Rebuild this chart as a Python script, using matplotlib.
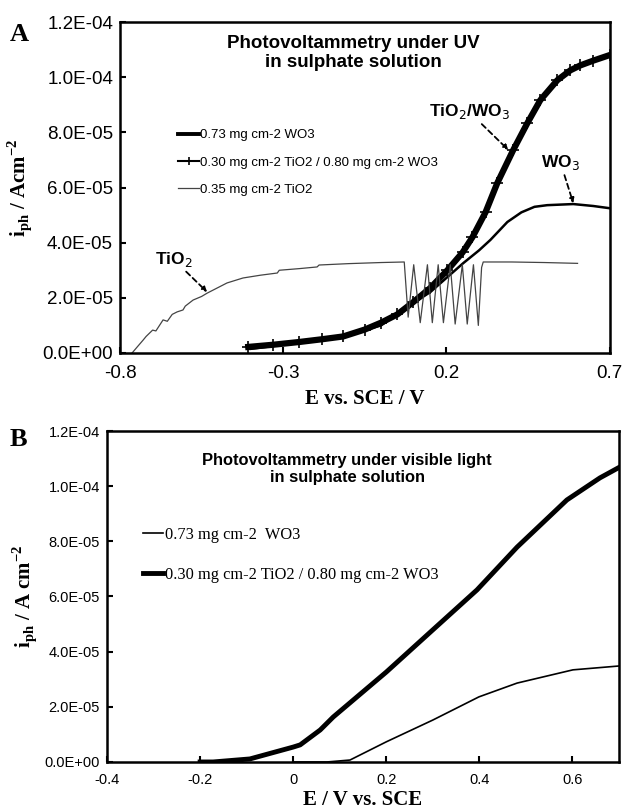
import matplotlib
matplotlib.use("Agg")
import matplotlib.pyplot as plt
from matplotlib.ticker import FuncFormatter

# ---- panel A: photovoltammetry under UV ----
a_wo3_E = [-0.40, -0.30, -0.20, -0.10, 0.0, 0.08, 0.151, 0.252, 0.30, 0.335, 0.387,
           0.43, 0.47, 0.509, 0.589, 0.65, 0.70]
a_wo3_i = [0.15e-5, 0.3e-5, 0.45e-5, 0.65e-5, 1.0e-5, 1.67e-5, 2.21e-5, 3.26e-5, 3.72e-5,
           4.1e-5, 4.75e-5, 5.1e-5, 5.3e-5, 5.36e-5, 5.40e-5, 5.33e-5, 5.25e-5]

a_mix_E = [-0.407, -0.33, -0.25, -0.18, -0.116, -0.05, 0.0, 0.05, 0.099, 0.15, 0.203,
           0.25, 0.28, 0.32, 0.356, 0.405, 0.448, 0.488, 0.54, 0.58, 0.611, 0.65, 0.70]
a_mix_i = [0.22e-5, 0.30e-5, 0.40e-5, 0.50e-5, 0.60e-5, 0.85e-5, 1.1e-5, 1.4e-5, 1.85e-5,
           2.35e-5, 3.0e-5, 3.65e-5, 4.2e-5, 5.1e-5, 6.16e-5, 7.36e-5, 8.33e-5, 9.17e-5,
           9.89e-5, 10.25e-5, 10.43e-5, 10.6e-5, 10.8e-5]

a_tio2_E = [-0.763, -0.745, -0.729, -0.72, -0.70, -0.69, -0.668, -0.655, -0.64, -0.625,
            -0.607, -0.60, -0.576, -0.55, -0.533, -0.50, -0.472, -0.423, -0.37, -0.318,
            -0.312, -0.25, -0.196, -0.19, -0.10, 0.0, 0.071,
            0.083, 0.100, 0.120, 0.142, 0.157, 0.175, 0.191, 0.212, 0.227, 0.249, 0.264,
            0.283, 0.298, 0.308, 0.313, 0.40, 0.50, 0.602]
a_tio2_i = [0.0, 0.25e-5, 0.47e-5, 0.6e-5, 0.83e-5, 0.8e-5, 1.2e-5, 1.15e-5, 1.4e-5, 1.49e-5,
            1.56e-5, 1.7e-5, 1.92e-5, 2.05e-5, 2.17e-5, 2.37e-5, 2.54e-5, 2.72e-5, 2.82e-5,
            2.9e-5, 3.0e-5, 3.06e-5, 3.12e-5, 3.19e-5, 3.24e-5, 3.28e-5, 3.3e-5,
            1.3e-5, 3.2e-5, 1.1e-5, 3.2e-5, 1.1e-5, 3.2e-5, 1.1e-5, 3.2e-5, 1.05e-5, 3.2e-5,
            1.05e-5, 3.2e-5, 1.0e-5, 3.1e-5, 3.3e-5, 3.3e-5, 3.28e-5, 3.25e-5]

a_labels = ["0.73 mg cm-2 WO3", "0.30 mg cm-2 TiO2 / 0.80 mg cm-2 WO3", "0.35 mg cm-2 TiO2"]
a_xticks = [-0.8, -0.3, 0.2, 0.7]
a_xticklabels = ["-0.8", "-0.3", "0.2", "0.7"]

# ---- panel B: photovoltammetry under visible light ----
b_wo3_E = [0.0, 0.073, 0.122, 0.20, 0.30, 0.399, 0.481, 0.601, 0.70]
b_wo3_i = [0.0, 0.0, 0.07e-5, 0.73e-5, 1.52e-5, 2.36e-5, 2.86e-5, 3.34e-5, 3.48e-5]

b_mix_E = [-0.20, -0.172, -0.093, 0.0, 0.015, 0.058, 0.086, 0.20, 0.30, 0.395, 0.481,
           0.588, 0.659, 0.698]
b_mix_i = [0.0, 0.0, 0.11e-5, 0.54e-5, 0.62e-5, 1.16e-5, 1.63e-5, 3.26e-5, 4.79e-5,
           6.24e-5, 7.79e-5, 9.5e-5, 10.3e-5, 10.66e-5]

b_labels = ["0.73 mg cm-2  WO3", "0.30 mg cm-2 TiO2 / 0.80 mg cm-2 WO3"]
b_xticks = [-0.4, -0.2, 0.0, 0.2, 0.4, 0.6]
b_xticklabels = ["-0.4", "-0.2", "0", "0.2", "0.4", "0.6"]

yticks = [0, 2e-5, 4e-5, 6e-5, 8e-5, 1e-4, 1.2e-4]

sans = "Liberation Sans"
serif = "Liberation Serif"


def style_axes(ax, tick_size, xpad):
    for s in ax.spines.values():
        s.set_linewidth(1.8)
    ax.tick_params(direction="in", length=4, width=1.5, labelsize=tick_size, pad=5)
    ax.tick_params(axis="x", pad=xpad)
    for lab in ax.get_xticklabels() + ax.get_yticklabels():
        lab.set_fontfamily(sans)
    ax.yaxis.set_major_formatter(FuncFormatter(lambda v, p: f"{v:.1E}"))


fig = plt.figure(figsize=(6.24, 8.10), dpi=100)

# panel A
axA = fig.add_axes([0.1923, 0.5642, 0.7845, 0.4086])
axA.plot(a_wo3_E, a_wo3_i, color="black", lw=1.8, label=a_labels[0])
axA.plot(a_mix_E, a_mix_i, color="black", lw=4.5, marker="+", ms=8, mew=1.2,
         label=a_labels[1])
axA.plot(a_tio2_E, a_tio2_i, color="#444444", lw=0.9, label=a_labels[2])
axA.set_xlim(-0.8, 0.7)
axA.set_ylim(0, 1.2e-4)
axA.set_xticks(a_xticks)
axA.set_xticklabels(a_xticklabels)
axA.set_yticks(yticks)
style_axes(axA, 13.5, 9)

hA, lA = axA.get_legend_handles_labels()
legA = axA.legend(hA, lA, loc="upper left", bbox_to_anchor=(0.105, 0.697), frameon=False,
                  handlelength=1.6, handletextpad=0.1, labelspacing=1.15, borderpad=0,
                  prop={"family": sans, "size": 9.5})
legA.get_lines()[0].set_linewidth(2.8)
legA.get_lines()[1].set_linewidth(1.5)
legA.get_lines()[1].set_markersize(6)

axA.text(0.476, 0.962, "Photovoltammetry under UV\nin sulphate solution", transform=axA.transAxes,
         ha="center", va="top", fontsize=13.5, fontweight="bold", family=sans, linespacing=1.2)

arrow = dict(arrowstyle="-|>", linestyle=(0, (3, 2)), color="black", lw=1.3,
             mutation_scale=7, shrinkA=0, shrinkB=0)
axA.annotate("TiO$_2$/WO$_3$", xy=(0.39, 7.36e-5), xytext=(0.27, 8.4e-5), ha="center",
             va="bottom", fontsize=12.5, fontweight="bold", family=sans, arrowprops=arrow)
axA.annotate("WO$_3$", xy=(0.589, 5.43e-5), xytext=(0.55, 6.55e-5), ha="center",
             va="bottom", fontsize=12.5, fontweight="bold", family=sans, arrowprops=arrow)
axA.annotate("TiO$_2$", xy=(-0.533, 2.21e-5), xytext=(-0.636, 3.05e-5), ha="center",
             va="bottom", fontsize=12.5, fontweight="bold", family=sans, arrowprops=arrow)

axA.set_xlabel("E vs. SCE / V", family=serif, fontweight="bold", fontsize=15, labelpad=5)
axA.set_ylabel(r"i$_{\mathregular{ph}}$ / Acm$^{\mathregular{-2}}$", family=serif,
               fontweight="bold", fontsize=15, labelpad=6)
fig.text(0.016, 0.972, "A", family=serif, fontweight="bold", fontsize=19, va="top")

# panel B
axB = fig.add_axes([0.1715, 0.0593, 0.8205, 0.4086])
axB.plot(b_wo3_E, b_wo3_i, color="black", lw=1.2, label=b_labels[0])
axB.plot(b_mix_E, b_mix_i, color="black", lw=3.5, label=b_labels[1])
axB.set_xlim(-0.4, 0.7)
axB.set_ylim(0, 1.2e-4)
axB.set_xticks(b_xticks)
axB.set_xticklabels(b_xticklabels)
axB.set_yticks(yticks)
style_axes(axB, 10.5, 8)

axB.legend(loc="upper left", bbox_to_anchor=(0.055, 0.735), frameon=False, handlelength=1.2,
           handletextpad=0.1, labelspacing=1.45, borderpad=0,
           prop={"family": serif, "size": 11.8})

axB.text(0.469, 0.935, "Photovoltammetry under visible light\nin sulphate solution",
         transform=axB.transAxes, ha="center", va="top", fontsize=11.9, fontweight="bold",
         family=sans, linespacing=1.2)

axB.set_xlabel("E / V vs. SCE", family=serif, fontweight="bold", fontsize=15, labelpad=2)
axB.set_ylabel(r"i$_{\mathregular{ph}}$ / A cm$^{\mathregular{-2}}$", family=serif,
               fontweight="bold", fontsize=15, labelpad=4)
fig.text(0.016, 0.472, "B", family=serif, fontweight="bold", fontsize=19, va="top")

fig.savefig("out.png", dpi=100)
